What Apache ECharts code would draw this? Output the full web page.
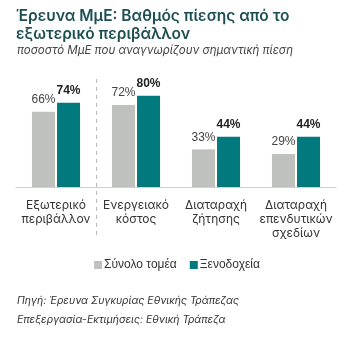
<!DOCTYPE html>
<html>
<head>
<meta charset="utf-8">
<script src="https://cdn.jsdelivr.net/npm/echarts@6/dist/echarts.min.js"></script>
<style>
  html, body { margin: 0; padding: 0; background: #fff; }
  #chart { width: 354px; height: 337px; }
</style>
</head>
<body>
<div id="chart"></div>
<script>
// κατηγορίες και τιμές
var categories = ['Εξωτερικό\nπεριβάλλον', 'Ενεργειακό\nκόστος', 'Διαταραχή\nζήτησης', 'Διαταραχή\nεπενδυτικών\nσχεδίων'];
var totalSector = [66, 72, 33, 29];
var hotels = [74, 80, 44, 44];
var seriesNames = ['Σύνολο τομέα', 'Ξενοδοχεία'];

var FONT = 'Inter, "Noto Sans", sans-serif';
var NARROW = '"Liberation Sans", Arial, sans-serif';
var myChart = echarts.init(document.getElementById('chart'));

var option = {
  animation: false,
  textStyle: { fontFamily: FONT },
  title: [
    {
      text: 'Έρευνα ΜμΕ: Βαθμός πίεσης από το\nεξωτερικό περιβάλλον',
      left: 11,
      top: 2,
      textStyle: { fontSize: 15.5, fontWeight: 600, color: '#1b4f52', lineHeight: 18, fontFamily: FONT }
    },
    {
      text: 'ποσοστό ΜμΕ που αναγνωρίζουν σημαντική πίεση',
      left: 12,
      top: 40,
      textStyle: { fontSize: 11.5, fontWeight: 'normal', fontStyle: 'italic', color: '#444', fontFamily: FONT }
    },
    {
      text: 'Πηγή: Έρευνα Συγκυρίας Εθνικής Τράπεζας\nΕπεξεργασία-Εκτιμήσεις: Εθνική Τράπεζα',
      left: 12,
      top: 286,
      textStyle: { fontSize: 10.5, fontWeight: 'normal', fontStyle: 'italic', color: '#333', lineHeight: 19, fontFamily: FONT }
    }
  ],
  legend: {
    data: seriesNames,
    top: 254,
    left: 'center',
    itemWidth: 8,
    itemHeight: 8,
    itemGap: 13,
    icon: 'rect',
    textStyle: { fontSize: 12, color: '#333', fontFamily: NARROW, padding: [0, 0, 0, -3] }
  },
  grid: { left: 16, right: 18, top: 73, bottom: 150 },
  xAxis: {
    type: 'category',
    data: categories,
    axisLine: { lineStyle: { color: '#d0d0d0' } },
    axisTick: { show: false },
    axisLabel: { fontSize: 12, color: '#333', lineHeight: 14, margin: 11, interval: 0 }
  },
  yAxis: {
    type: 'value',
    min: 0,
    max: 100,
    show: false
  },
  series: [
    {
      name: seriesNames[0],
      type: 'bar',
      data: totalSector,
      barWidth: 23,
      barGap: '9%',
      itemStyle: { color: '#bfc1be' },
      label: { show: true, position: 'top', distance: 6, formatter: '{c}%', fontSize: 12, color: '#444', fontFamily: NARROW }
    },
    {
      name: seriesNames[1],
      type: 'bar',
      data: hotels,
      barWidth: 23,
      itemStyle: { color: '#007a7c' },
      label: { show: true, position: 'top', distance: 6, formatter: '{c}%', fontSize: 12, fontWeight: 'bold', color: '#222', fontFamily: NARROW }
    }
  ]
};

myChart.setOption(option);

// διακεκομμένη γραμμή μεταξύ 1ης και 2ης κατηγορίας
var x0 = myChart.convertToPixel({ xAxisIndex: 0 }, 0);
var x1 = myChart.convertToPixel({ xAxisIndex: 0 }, 1);
var sepX = Math.round((x0 + x1) / 2) + 0.5;
myChart.setOption({
  graphic: [{
    type: 'line',
    shape: { x1: sepX, y1: 79, x2: sepX, y2: 236 },
    style: { stroke: '#bbb', lineWidth: 1, lineDash: [4, 4] },
    z: 10
  }]
});
</script>
</body>
</html>
